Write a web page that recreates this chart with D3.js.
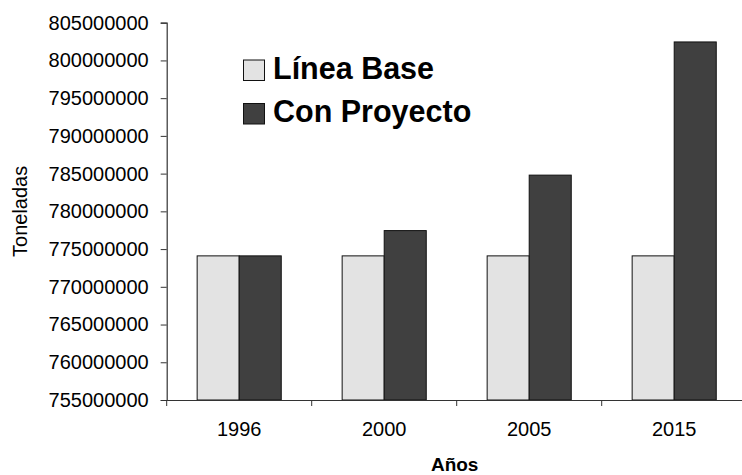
<!DOCTYPE html>
<html>
<head>
<meta charset="utf-8">
<script src="https://cdn.jsdelivr.net/npm/d3@7"></script>
<style>
  body { margin: 0; background: #fff; }
  svg { display: block; font-family: "Liberation Sans", Arial, sans-serif; }
</style>
</head>
<body>
<svg width="742" height="475"></svg>
<script>
// Data
const years = ["1996", "2000", "2005", "2015"];
const seriesNames = ["Línea Base", "Con Proyecto"];
const lineaBase = [774100000, 774100000, 774100000, 774100000];
const conProyecto = [774100000, 777450000, 784800000, 802450000];
const yTicks = [755000000, 760000000, 765000000, 770000000, 775000000,
                780000000, 785000000, 790000000, 795000000, 800000000, 805000000];

const colors = ["#e3e3e3", "#404040"];

const svg = d3.select("svg");
const plotLeft = 166.7, plotRight = 746.7, plotTop = 22.7, plotBottom = 400;

// Scales
const x0 = d3.scaleBand()
    .domain(years)
    .range([plotLeft, plotRight])
    .paddingInner(0.42)
    .paddingOuter(0.21);

const x1 = d3.scaleBand()
    .domain(seriesNames)
    .range([0, x0.bandwidth()]);

const y = d3.scaleLinear()
    .domain([755000000, 805000000])
    .range([plotBottom, plotTop]);

// Bars
const groups = svg.selectAll(".year")
    .data(years)
    .enter().append("g")
    .attr("class", "year")
    .attr("transform", d => "translate(" + x0(d) + ",0)");

groups.selectAll("rect")
    .data((d, i) => [
        { name: seriesNames[0], value: lineaBase[i] },
        { name: seriesNames[1], value: conProyecto[i] }
    ])
    .enter().append("rect")
    .attr("x", d => x1(d.name))
    .attr("y", d => y(d.value))
    .attr("width", x1.bandwidth())
    .attr("height", d => plotBottom - y(d.value))
    .attr("fill", (d, i) => colors[i])
    .attr("stroke", "#111")
    .attr("stroke-width", 1);

// Y axis
const yAxis = svg.append("g")
    .attr("transform", "translate(" + plotLeft + ",0)")
    .call(d3.axisLeft(y).tickValues(yTicks).tickFormat(d3.format("d")).tickSize(6).tickPadding(12));

// X axis: ticks at category boundaries
const xAxis = svg.append("g")
    .attr("transform", "translate(0," + plotBottom + ")")
    .call(d3.axisBottom(x0).tickSize(0).tickPadding(22));

xAxis.selectAll(".boundary")
    .data(years)
    .enter().append("line")
    .attr("class", "boundary")
    .attr("x1", d => x0(d) - x0.step() * x0.paddingOuter())
    .attr("x2", d => x0(d) - x0.step() * x0.paddingOuter())
    .attr("y1", 0)
    .attr("y2", 6)
    .attr("stroke", "#333");

[yAxis, xAxis].forEach(function(a) {
    a.select(".domain").attr("stroke", "#333").attr("stroke-width", 1.2);
    a.selectAll(".tick line").attr("stroke", "#333");
    a.selectAll("text").attr("fill", "#000").style("font-size", "20px")
        .style("font-family", "'Liberation Sans', Arial, sans-serif");
});

// Axis titles
svg.append("text")
    .attr("x", (plotLeft + plotRight) / 2 - 2)
    .attr("y", 471)
    .attr("text-anchor", "middle")
    .style("font-size", "19px")
    .style("font-weight", "bold")
    .text("Años");

svg.append("text")
    .attr("transform", "translate(27.3," + ((plotTop + plotBottom) / 2) + ") rotate(-90)")
    .attr("text-anchor", "middle")
    .style("font-size", "20px")
    .text("Toneladas");

// Legend
const legend = svg.selectAll(".legend")
    .data(seriesNames)
    .enter().append("g")
    .attr("class", "legend")
    .attr("transform", (d, i) => "translate(243.5," + (60 + i * 43.5) + ")");

legend.append("rect")
    .attr("width", 21)
    .attr("height", 20.5)
    .attr("fill", (d, i) => colors[i])
    .attr("stroke", "#111");

legend.append("text")
    .attr("x", 29.5)
    .attr("y", 18.5)
    .style("font-size", "30.5px")
    .style("font-weight", "bold")
    .text(d => d);
</script>
</body>
</html>
